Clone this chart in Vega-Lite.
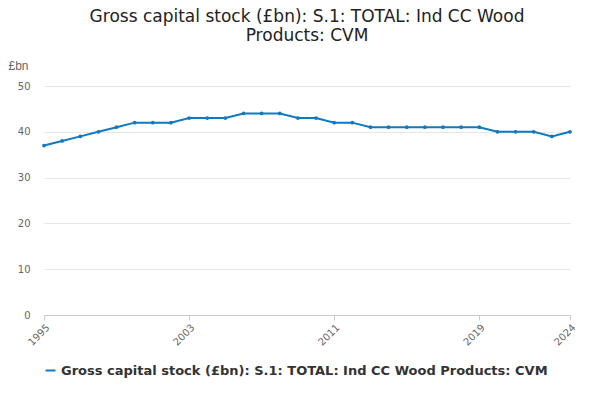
{
  "$schema": "https://vega.github.io/schema/vega-lite/v6.json",
  "width": 600,
  "height": 400,
  "autosize": {"type": "fit", "contains": "padding"},
  "padding": {"left": 8, "right": 22, "top": 8, "bottom": 22},
  "background": "#ffffff",
  "title": {
    "text": ["Gross capital stock (£bn): S.1: TOTAL: Ind CC Wood", "Products: CVM"],
    "font": "DejaVu Sans",
    "fontSize": 17,
    "fontWeight": "normal",
    "color": "#222222",
    "anchor": "middle",
    "offset": 14
  },
  "data": {
    "values": [
      {"Year": 1995, "Value": 37}, {"Year": 1996, "Value": 38}, {"Year": 1997, "Value": 39},
      {"Year": 1998, "Value": 40}, {"Year": 1999, "Value": 41}, {"Year": 2000, "Value": 42},
      {"Year": 2001, "Value": 42}, {"Year": 2002, "Value": 42}, {"Year": 2003, "Value": 43},
      {"Year": 2004, "Value": 43}, {"Year": 2005, "Value": 43}, {"Year": 2006, "Value": 44},
      {"Year": 2007, "Value": 44}, {"Year": 2008, "Value": 44}, {"Year": 2009, "Value": 43},
      {"Year": 2010, "Value": 43}, {"Year": 2011, "Value": 42}, {"Year": 2012, "Value": 42},
      {"Year": 2013, "Value": 41}, {"Year": 2014, "Value": 41}, {"Year": 2015, "Value": 41},
      {"Year": 2016, "Value": 41}, {"Year": 2017, "Value": 41}, {"Year": 2018, "Value": 41},
      {"Year": 2019, "Value": 41}, {"Year": 2020, "Value": 40}, {"Year": 2021, "Value": 40},
      {"Year": 2022, "Value": 40}, {"Year": 2023, "Value": 39}, {"Year": 2024, "Value": 40}
    ]
  },
  "transform": [{"calculate": "'Gross capital stock (£bn): S.1: TOTAL: Ind CC Wood Products: CVM'", "as": "Series"}],
  "mark": {"type": "line", "color": "#0f7ac0", "strokeWidth": 2, "point": {"filled": true, "size": 14, "color": "#0f7ac0"}},
  "encoding": {
    "x": {
      "field": "Year", "type": "quantitative",
      "scale": {"domain": [1995, 2024], "nice": false},
      "axis": {"values": [1995, 2003, 2011, 2019, 2024], "format": "d", "labelAngle": -45, "title": null, "grid": false,
               "labelColor": "#666666", "labelFont": "DejaVu Sans", "tickColor": "#cccccc", "domainColor": "#cccccc"}
    },
    "y": {
      "field": "Value", "type": "quantitative",
      "scale": {"domain": [0, 50]},
      "axis": {"values": [0, 10, 20, 30, 40, 50], "title": "£bn", "titleAngle": 0, "titleAlign": "left", "titleX": -36, "titleY": -14,
               "titleFontWeight": "normal", "titleFontSize": 12, "titleColor": "#666666", "labelColor": "#666666", "labelFont": "DejaVu Sans",
               "domain": false, "ticks": false, "labelPadding": 14, "gridColor": "#e6e6e6"}
    },
    "color": {
      "field": "Series", "type": "nominal",
      "scale": {"range": ["#0f7ac0"]},
      "legend": {"orient": "bottom", "title": null, "labelFont": "DejaVu Sans", "labelFontSize": 13, "labelFontWeight": "bold",
                 "labelColor": "#333333", "labelLimit": 600, "symbolType": "stroke", "symbolStrokeWidth": 2, "offset": 16}
    }
  },
  "config": {"view": {"stroke": null}}
}
